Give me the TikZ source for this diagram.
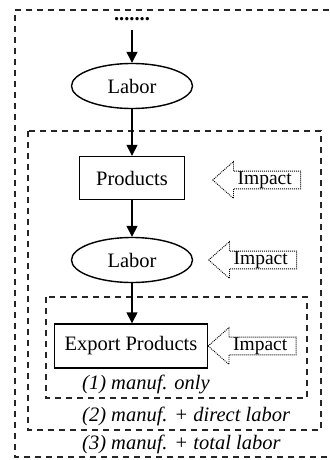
\documentclass[tikz,border=0pt]{standalone}
\usepackage{fontspec}
\setmainfont{Liberation Serif}
\usetikzlibrary{shapes.geometric,shapes.arrows,arrows.meta}
\begin{document}
\begin{tikzpicture}[x=1pt,y=-1pt,
  font=\fontsize{20.5}{24}\selectfont,
  lab/.style={ellipse,draw,line width=1.4pt,minimum width=121pt,minimum height=45pt,inner sep=0pt},
  prod/.style={rectangle,draw,line width=1.4pt,minimum height=43pt,inner sep=0pt},
  grp/.style={draw=black!85,line width=1.2pt,dash pattern=on 6pt off 5pt},
  imp/.style={single arrow,draw,shape border rotate=180,dash pattern=on 1pt off 1pt,line width=0.9pt,
     single arrow head extend=9.5pt,single arrow tip angle=83,minimum height=88pt,inner xsep=3pt,inner ysep=0pt,
     anchor=tip,font=\fontsize{19.5}{22}\selectfont},
  arr/.style={line width=1.4pt,-{Triangle[length=11pt,width=11pt]}},
  grplabel/.style={anchor=base west,inner sep=0pt,font=\fontsize{20.5}{24}\selectfont\itshape}
]
\useasboundingbox (0,0) rectangle (329,460);
\clip (0,0) rectangle (329,460);
\draw[grp] (340,10) -- (15,10) -- (15,457) -- (340,457);
\draw[grp] (28,131) rectangle (321,430);
\draw[grp] (46,297) rectangle (307,398);
\node[anchor=base,inner sep=0pt,font=\fontsize{20.5}{24}\selectfont\bfseries] (dots) at (132,21) {.......};
\node[lab] (labor1) at (132,86) {Labor};
\node[prod,minimum width=105pt] (products) at (132,178) {Products};
\node[lab] (labor2) at (132,260) {Labor};
\node[prod,minimum width=153pt,minimum height=44pt] (export) at (131,346) {Export Products};
\draw[arr] ([yshift=-9pt]dots.south) -- (labor1.north);
\draw[arr] (labor1.south) -- (products.north);
\draw[arr] (products.south) -- (labor2.north);
\draw[arr] (labor2.south) -- (labor2.south |- export.north);
\node[imp] (imp1) at (212,180) {\hspace{6pt}Impact};
\node[imp] (imp2) at (208,260) {\hspace{6pt}Impact};
\node[imp] (imp3) at (207.5,346) {\hspace{6pt}Impact};
\node[grplabel] (c1) at (82,389) {(1) manuf. only};
\node[grplabel] (c2) at (82,421) {(2) manuf. + direct labor};
\node[grplabel] (c3) at (82,449) {(3) manuf. + total labor};
\end{tikzpicture}
\end{document}
